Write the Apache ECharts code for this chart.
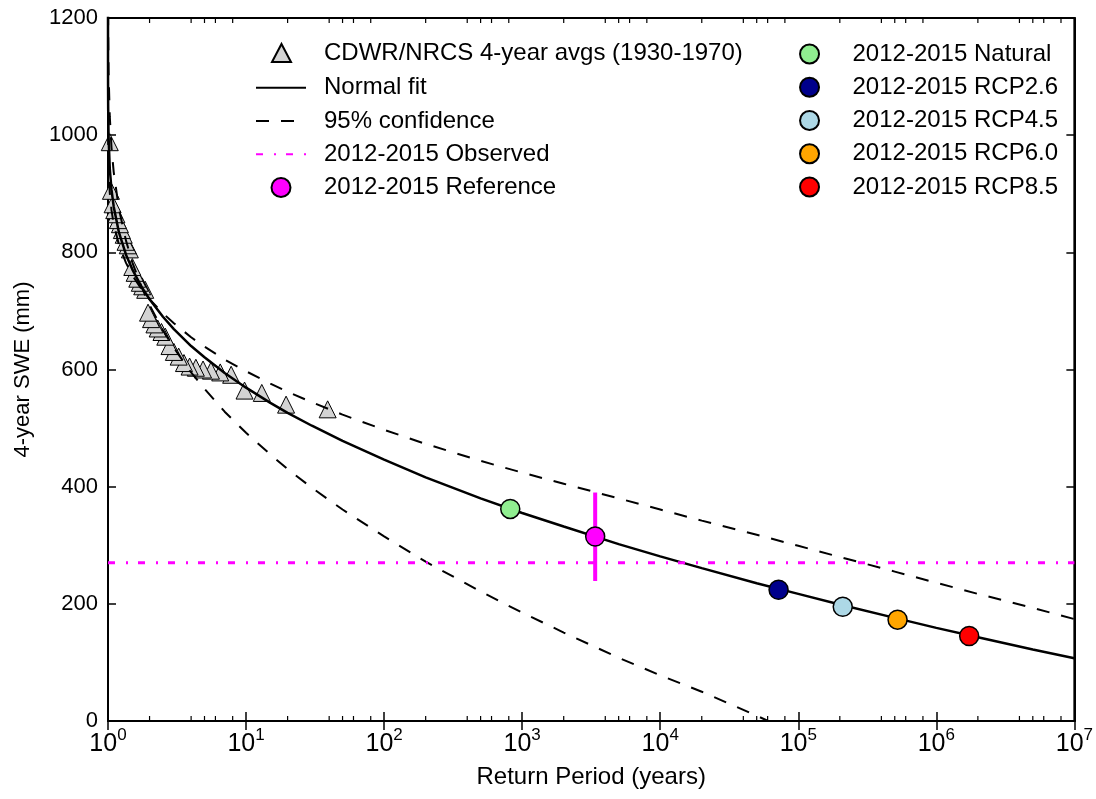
<!DOCTYPE html>
<html>
<head>
<meta charset="utf-8">
<script src="https://cdn.jsdelivr.net/npm/echarts@6/dist/echarts.min.js"></script>
<style>
html,body{margin:0;padding:0;background:#ffffff;}
#chart{width:1096px;height:799px;}
</style>
</head>
<body>
<div id="chart"></div>
<script>
// ---------------- data ----------------
// return periods (years) at which the fitted curves were read
const curveT = [1.0000001, 1.000001, 1.00001, 1.0001, 1.0003, 1.001, 1.003, 1.01, 1.03, 1.06, 1.1, 1.2, 1.35, 1.5, 1.75, 2, 2.5, 3, 4, 5, 7, 10, 15, 20, 30, 50, 100, 200, 500, 1e3, 2e3, 5e3, 1e4, 2e4, 5e4, 1e5, 2e5, 5e5, 1e6, 2e6, 5e6, 1e7];
const fitSWE   = [1334, 1281, 1223, 1159, 1125, 1085, 1045, 995, 943, 907, 878, 834, 796, 771, 741, 720, 690, 669, 640, 621, 594, 569, 543, 526, 504, 478, 446, 416, 380, 355, 332, 302, 281, 261, 235, 217, 199, 176, 159, 143, 122, 107];
const upperSWE = [1219, 1176, 1129, 1077, 1049, 1017, 984, 944, 902, 872, 848, 813, 782, 761, 737, 720, 696, 679, 655, 639, 617, 597, 576, 562, 544, 523, 497, 473, 444, 424, 405, 380, 361, 342, 318, 299, 280, 255, 236, 217, 193, 174];
const lowerSWE = [1594, 1518, 1435, 1342, 1293, 1235, 1178, 1106, 1032, 979, 937, 874, 820, 783, 741, 710, 667, 637, 595, 567, 528, 492, 455, 430, 398, 361, 315, 272, 221, 185, 151, 108, 78, 50, 9, -24, null, null, null, null, null, null];

// CDWR/NRCS 4-year averages (1930-1970), plotted at their return periods
const obsT   = [39, 19.5, 13, 9.75, 7.8, 6.5, 5.57, 4.88, 4.33, 3.9, 3.55, 3.25, 3.0, 2.79, 2.6, 2.44, 2.29, 2.17, 2.05, 1.95, 1.86, 1.77, 1.7, 1.63, 1.56, 1.5, 1.44, 1.39, 1.34, 1.3, 1.26, 1.22, 1.18, 1.15, 1.11, 1.08, 1.05, 1.03];
const obsSWE = [532, 540, 560, 564, 591, 595, 598, 600, 603, 605, 611, 622, 630, 640, 656, 664, 670, 677, 686, 697, 736, 742, 748, 755, 765, 775, 805, 812, 818, 830, 838, 848, 855, 865, 872, 882, 905, 988];

// 2012-2015 observed value (horizontal line) spanning the axis range
const observedT = [1, 1e7];
const observedSWE = [270, 270];

// 2012-2015 scenario points: [return period, SWE]
const refPoint = [3380, 315];
const refRange = [239, 390];
const naturalPoint = [820, 362];
const rcp26Point = [72000, 224];
const rcp45Point = [210000, 195];
const rcp60Point = [524000, 173];
const rcp85Point = [1730000, 145];

// axis / tick values
const xMin = 1, xMax = 1e7;
const yMin = 0, yMax = 1200, yStep = 200;
const minorSubs = [2, 4, 5, 6, 8];
const decades = [1, 10, 100, 1000, 10000, 100000, 1000000];

const legendTriangle = ['CDWR/NRCS 4-year avgs (1930-1970)'];
const legendLeft = ['Normal fit', '95% confidence', '2012-2015 Observed', '2012-2015 Reference'];
const legendRight = ['2012-2015 Natural', '2012-2015 RCP2.6', '2012-2015 RCP4.5', '2012-2015 RCP6.0', '2012-2015 RCP8.5'];
const lineLegendNames = ['Normal fit', '95% confidence', '2012-2015 Observed'];

// ---------------- build ----------------
const FONT = '"Liberation Sans", Arial, Helvetica, sans-serif';
function pairs(xs, ys) {
  const out = [];
  xs.forEach((x, i) => { if (ys[i] !== null && ys[i] !== undefined) out.push([x, ys[i]]); });
  return out;
}
const minorTicks = [];
decades.forEach(d => minorSubs.forEach(s => minorTicks.push([d * s, yMin])));

function pointSeries(name, pt, color) {
  return {
    name: name, type: 'scatter', data: [pt], symbol: 'circle', symbolSize: 19, z: 6,
    itemStyle: { color: color, borderColor: '#000', borderWidth: 1.5, opacity: 1 },
    emphasis: { disabled: true }, silent: true
  };
}

const ROW = 33.75;
const legendTop = 42;
function legendBox(extra) {
  return Object.assign({
    orient: 'vertical', padding: 0, itemWidth: 50, itemHeight: 19, itemGap: 9.25,
    selectedMode: false, symbolKeepAspect: true,
    textStyle: { fontSize: 24, fontFamily: FONT, color: '#000', padding: [0, 0, 0, 13] }
  }, extra);
}
function legendData(names) {
  return names.map(n => lineLegendNames.indexOf(n) >= 0 ? { name: n, itemStyle: { opacity: 0 } } : { name: n });
}

const option = {
  animation: false,
  backgroundColor: '#ffffff',
  textStyle: { fontFamily: FONT },
  grid: { left: 108, right: 20, top: 18, bottom: 78, show: true, borderColor: '#000', borderWidth: 2, backgroundColor: 'transparent' },
  legend: [
    legendBox({ left: 271, top: legendTop - 1, itemWidth: 19, itemHeight: 18, data: legendData(legendTriangle),
      textStyle: { fontSize: 24, fontFamily: FONT, color: '#000', padding: [0, 0, 0, 28] } }),
    legendBox({ left: 255, top: legendTop + ROW, data: legendData(legendLeft) }),
    legendBox({ right: 38, top: legendTop, data: legendData(legendRight) })
  ],
  xAxis: [{
    type: 'log', logBase: 10, min: xMin, max: xMax, splitNumber: 7,
    name: 'Return Period (years)', nameLocation: 'middle', nameGap: 44,
    nameTextStyle: { fontSize: 24, color: '#000', fontFamily: FONT },
    axisLine: { show: true, lineStyle: { color: '#000', width: 2 } },
    axisTick: { show: true, inside: true, length: 9, lineStyle: { color: '#000', width: 1.5 } },
    splitLine: { show: false },
    axisLabel: {
      margin: 6, color: '#000',
      formatter: v => '{b|10}{s|' + Math.round(Math.log10(v)) + '}',
      rich: {
        b: { fontSize: 25, fontFamily: FONT, color: '#000', verticalAlign: 'bottom', lineHeight: 30 },
        s: { fontSize: 17, fontFamily: FONT, color: '#000', verticalAlign: 'top', lineHeight: 17 }
      }
    }
  }, {
    type: 'log', logBase: 10, min: xMin, max: xMax, splitNumber: 7, position: 'top',
    axisLine: { show: true, lineStyle: { color: '#000', width: 2 } },
    axisTick: { show: true, inside: true, length: 9, lineStyle: { color: '#000', width: 1.5 } },
    axisLabel: { show: false }, splitLine: { show: false }
  }],
  yAxis: [{
    type: 'value', min: yMin, max: yMax, interval: yStep,
    name: '4-year SWE (mm)', nameLocation: 'middle', nameGap: 74,
    nameTextStyle: { fontSize: 22, color: '#000', fontFamily: FONT },
    axisLine: { show: true, lineStyle: { color: '#000', width: 2 } },
    axisTick: { show: true, inside: true, length: 8, lineStyle: { color: '#000', width: 1.5 } },
    splitLine: { show: false },
    axisLabel: { fontSize: 22, color: '#000', margin: 10, fontFamily: FONT, formatter: v => String(v) }
  }, {
    type: 'value', min: yMin, max: yMax, interval: yStep, position: 'right',
    axisLine: { show: true, lineStyle: { color: '#000', width: 2 } },
    axisTick: { show: true, inside: true, length: 8, lineStyle: { color: '#000', width: 1.5 } },
    splitLine: { show: false }, axisLabel: { show: false }
  }],
  series: [
    {
      name: 'minor ticks', type: 'custom', data: minorTicks, silent: true, z: 1,
      renderItem: function (params, api) {
        const b = api.coord([api.value(0), yMin]);
        const t = api.coord([api.value(0), yMax]);
        return { type: 'group', children: [
          { type: 'line', shape: { x1: b[0], y1: b[1], x2: b[0], y2: b[1] - 5 }, style: { stroke: '#000', lineWidth: 1.2 } },
          { type: 'line', shape: { x1: t[0], y1: t[1], x2: t[0], y2: t[1] + 5 }, style: { stroke: '#000', lineWidth: 1.2 } }
        ] };
      }
    },
    {
      name: 'CDWR/NRCS 4-year avgs (1930-1970)', type: 'scatter', data: pairs(obsT, obsSWE),
      symbol: 'triangle', symbolSize: 17, symbolKeepAspect: true, z: 2,
      itemStyle: { color: '#d3d3d3', borderColor: '#000', borderWidth: 1, opacity: 1 },
      emphasis: { disabled: true }, silent: true
    },
    {
      name: 'Normal fit', type: 'line', data: pairs(curveT, fitSWE), symbol: 'none', showSymbol: false, z: 3,
      smooth: false, clip: true,
      lineStyle: { color: '#000', width: 2.5 }, itemStyle: { color: '#000' },
      emphasis: { disabled: true }, silent: true
    },
    {
      name: '95% confidence', type: 'line', data: pairs(curveT, upperSWE), symbol: 'none', showSymbol: false, z: 3,
      smooth: false, clip: true,
      lineStyle: { color: '#000', width: 2, type: [13, 12] }, itemStyle: { color: '#000' },
      emphasis: { disabled: true }, silent: true
    },
    {
      name: '95% confidence', type: 'line', data: pairs(curveT, lowerSWE), symbol: 'none', showSymbol: false, z: 3,
      smooth: false, clip: true,
      lineStyle: { color: '#000', width: 2, type: [13, 12] }, itemStyle: { color: '#000' },
      emphasis: { disabled: true }, silent: true
    },
    {
      name: '2012-2015 Observed', type: 'line', data: pairs(observedT, observedSWE), symbol: 'none', showSymbol: false, z: 3,
      lineStyle: { color: '#ff00ff', width: 3, type: [7, 11, 2, 10] }, itemStyle: { color: '#ff00ff' },
      emphasis: { disabled: true }, silent: true
    },
    {
      name: 'reference range', type: 'line', data: [[refPoint[0], refRange[0]], [refPoint[0], refRange[1]]],
      symbol: 'none', showSymbol: false, z: 4,
      lineStyle: { color: '#ff00ff', width: 4 }, emphasis: { disabled: true }, silent: true
    },
    pointSeries('2012-2015 Reference', refPoint, '#ff00ff'),
    pointSeries('2012-2015 Natural', naturalPoint, '#90ee90'),
    pointSeries('2012-2015 RCP2.6', rcp26Point, '#00008b'),
    pointSeries('2012-2015 RCP4.5', rcp45Point, '#add8e6'),
    pointSeries('2012-2015 RCP6.0', rcp60Point, '#ffa500'),
    pointSeries('2012-2015 RCP8.5', rcp85Point, '#ff0000')
  ]
};

const chart = echarts.init(document.getElementById('chart'), null, { renderer: 'canvas' });
chart.setOption(option);
</script>
</body>
</html>
